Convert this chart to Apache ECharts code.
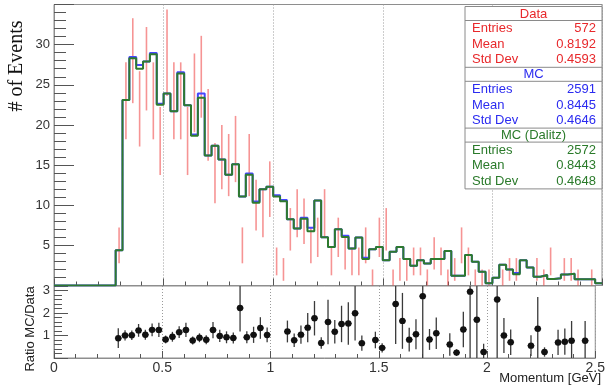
<!DOCTYPE html>
<html>
<head>
<meta charset="utf-8">
<script src="https://cdn.jsdelivr.net/npm/echarts@6.0.0/dist/echarts.min.js"></script>
<style>
  html, body { margin: 0; padding: 0; background: #ffffff; }
  #chart { width: 608px; height: 389px; }
</style>
</head>
<body>
<div id="chart"></div>
<script>
// Momentum histogram: 80 bins of 0.03125 GeV from 0 to 2.5 GeV
const binWidth = 0.03125;
const nBins = 80;

// MC (Dalitz) expectation per bin, normalised to data
const mcDalitz = [
  0, 0, 0, 0, 0, 0, 0, 0, 0, 4.4,
  23.1, 28.3, 27.0, 27.9, 28.8, 22.5, 23.9, 21.7, 26.4, 22.45,
  18.65, 23.4, 16.2, 17.4, 15.7, 13.8, 15.1, 11.1, 13.8, 10.3,
  12.0, 12.3, 11.1, 10.5, 8.25, 7.1, 8.3, 6.75, 10.6, 6.0,
  4.8, 7.0, 6.05, 4.6, 5.97, 3.3, 4.5, 4.8, 3.16, 4.2,
  4.8, 3.3, 2.45, 3.16, 2.75, 3.3, 3.3, 4.3, 1.2, 1.2,
  3.8, 2.95, 1.7, 0.27, 0.97, 2.6, 2.0, 1.4, 3.16, 2.25,
  1.1, 1.3, 0.8, 0.89, 1.38, 1.45, 0.77, 0.77, 0.77, 0.27
];

// Full MC expectation per bin, normalised to data
const mcAll = [
  0, 0, 0, 0, 0, 0, 0, 0, 0, 4.4,
  23.1, 28.45, 27.45, 27.9, 28.95, 22.65, 23.9, 21.7, 26.55, 22.45,
  18.8, 23.9, 16.2, 17.4, 15.7, 13.8, 15.1, 11.1, 13.95, 10.45,
  12.0, 12.3, 11.25, 10.65, 8.25, 7.1, 8.45, 7.2, 10.6, 6.0,
  4.8, 7.0, 6.2, 4.6, 5.97, 3.45, 4.5, 4.8, 3.16, 4.2,
  4.8, 3.3, 2.45, 3.16, 2.75, 3.3, 3.3, 4.3, 1.2, 1.2,
  3.8, 2.95, 1.7, 0.27, 0.97, 2.6, 2.0, 1.55, 3.16, 2.25,
  1.1, 1.3, 0.8, 0.89, 1.38, 1.45, 0.77, 0.77, 0.77, 0.27
];

// Observed data counts per bin
const dataCounts = [
  0, 0, 0, 0, 0, 0, 0, 0, 0, 5,
  23, 28, 22, 27, 23, 18, 29, 23, 23, 18,
  24, 26, 20, 14, 16, 15, 17, 5, 15, 10,
  9, 12, 3, 2, 7, 9, 8, 5, 6, 9,
  3, 6, 4, 3, 3, 5, 1, 6, 7, 1,
  2, 2, 3, 3, 1, 4, 3, 1, 2, 5,
  3, 1, 1, 1, 0, 1, 2, 2, 0, 0,
  2, 1, 3, 0, 2, 2, 1, 0, 1, 0
];

// Statistics boxes
const statTitles = ['Data', 'MC', 'MC (Dalitz)'];
const statEntries = ['572', '2591', '2572'];
const statMeans = ['0.8192', '0.8445', '0.8443'];
const statStdDevs = ['0.4593', '0.4646', '0.4648'];
const statColors = ['#e8282b', '#2b2bf0', '#2a7a2a'];

// Tick labels
const xTickLabels = ['0', '0.5', '1', '1.5', '2', '2.5'];
const yTickLabels = ['5', '10', '15', '20', '25', '30'];
const ratioTickLabels = ['1', '2', '3'];

// MC weight per simulated event (data entries / MC entries)
const mcWeight = 572 / 2591;

const FONT = '"Liberation Sans", Arial, Helvetica, sans-serif';
const axisGray = '#8e8e8e';
const tickGray = '#555555';
const labelColor = '#333333';

function stepPoints(vals) {
  const pts = [];
  for (let i = 0; i < nBins; i++) pts.push([i * binWidth, vals[i]]);
  pts.push([nBins * binWidth, vals[nBins - 1]]);
  return pts;
}

const dataBars = [];
const ratioPoints = [];
for (let i = 0; i < nBins; i++) {
  const n = dataCounts[i];
  if (n <= 0) continue;
  const xc = (i + 0.5) * binWidth;
  dataBars.push([xc, n, Math.sqrt(n)]);
  const mc = mcDalitz[i];
  const r = mc / n;
  const err = r * Math.sqrt(1 / n + mcWeight / mc);
  ratioPoints.push([xc, r, err]);
}

function clampY(y, cs) {
  return Math.min(Math.max(y, cs.y), cs.y + cs.height);
}

function renderDataBar(params, api) {
  const cs = params.coordSys;
  const x = api.value(0), n = api.value(1), e = api.value(2);
  const top = api.coord([x, n + e]);
  const bot = api.coord([x, Math.max(n - e, 0)]);
  return {
    type: 'line',
    shape: { x1: top[0], y1: clampY(top[1], cs), x2: top[0], y2: clampY(bot[1], cs) },
    style: { stroke: 'rgba(238, 60, 60, 0.55)', lineWidth: 1.6 }
  };
}

function renderRatio(params, api) {
  const cs = params.coordSys;
  const x = api.value(0), r = api.value(1), e = api.value(2);
  const c = api.coord([x, r]);
  if (c[1] < cs.y || c[1] > cs.y + cs.height) return { type: 'group', children: [] };
  const top = api.coord([x, r + e]);
  const bot = api.coord([x, Math.max(r - e, 0)]);
  const left = api.coord([x - binWidth / 2, r]);
  const right = api.coord([x + binWidth / 2, r]);
  return {
    type: 'group',
    children: [
      { type: 'line', shape: { x1: c[0], y1: clampY(top[1], cs), x2: c[0], y2: clampY(bot[1], cs) },
        style: { stroke: '#3a3a3a', lineWidth: 1.3 } },
      { type: 'line', shape: { x1: left[0], y1: c[1], x2: right[0], y2: c[1] },
        style: { stroke: '#222', lineWidth: 1.3 } },
      { type: 'circle', shape: { cx: c[0], cy: c[1], r: 3.2 }, style: { fill: '#111' } }
    ]
  };
}

function xAxisCfg(gridIndex, showLabels) {
  return {
    gridIndex: gridIndex, type: 'value', min: 0, max: 2.5, interval: 0.5,
    axisLine: { show: true, onZero: false, lineStyle: { color: axisGray, width: 1 } },
    axisTick: { show: true, inside: true, length: 7, lineStyle: { color: tickGray } },
    minorTick: { show: true, splitNumber: 5, length: 4, lineStyle: { color: tickGray } },
    axisLabel: {
      show: showLabels, fontSize: 14, fontFamily: FONT, color: labelColor, margin: 3,
      formatter: function (v) { return xTickLabels[Math.round(v / 0.5)] || ''; }
    },
    splitLine: { show: true, lineStyle: { type: [1, 2], color: '#9a9a9a', width: 1 } }
  };
}

// Statistics box graphics (box frame, separators and text rows)
const boxX = 465, boxW = 137, boxTop = 6.5;
const headerH = 14, rowH = 15.6;
const statFont = '13px ' + FONT;
const boxH = statTitles.length * (headerH + 3 * rowH);
const statGraphics = [
  { type: 'rect', z: 100, shape: { x: boxX, y: boxTop, width: boxW, height: boxH },
    style: { fill: '#ffffff', stroke: '#8a8a8a', lineWidth: 1 } }
];
let yCur = boxTop;
for (let b = 0; b < statTitles.length; b++) {
  const col = statColors[b];
  statGraphics.push({ type: 'text', z: 101, x: boxX + boxW / 2, y: yCur + headerH / 2 + 0.5,
    style: { text: statTitles[b], fill: col, font: statFont, align: 'center', verticalAlign: 'middle' } });
  yCur += headerH;
  statGraphics.push({ type: 'line', z: 101, shape: { x1: boxX, y1: yCur, x2: boxX + boxW, y2: yCur },
    style: { stroke: '#8a8a8a', lineWidth: 1 } });
  const labels = ['Entries', 'Mean', 'Std Dev'];
  const vals = [statEntries[b], statMeans[b], statStdDevs[b]];
  for (let r = 0; r < 3; r++) {
    const yy = yCur + rowH * (r + 0.5) + 0.3;
    statGraphics.push({ type: 'text', z: 101, x: boxX + 7, y: yy,
      style: { text: labels[r], fill: col, font: statFont, align: 'left', verticalAlign: 'middle' } });
    statGraphics.push({ type: 'text', z: 101, x: boxX + boxW - 6, y: yy,
      style: { text: vals[r], fill: col, font: statFont, align: 'right', verticalAlign: 'middle' } });
  }
  yCur += rowH * 3;
  if (b < statTitles.length - 1) {
    statGraphics.push({ type: 'line', z: 101, shape: { x1: boxX, y1: yCur, x2: boxX + boxW, y2: yCur },
      style: { stroke: '#8a8a8a', lineWidth: 1 } });
  }
}

const titleGraphics = [
  { type: 'text', x: 17, y: 66, rotation: Math.PI / 2,
    style: { text: '# of Events', fill: '#111', font: '20px "Liberation Serif", "Times New Roman", serif',
             align: 'center', verticalAlign: 'middle' } },
  { type: 'text', x: 30, y: 329, rotation: Math.PI / 2,
    style: { text: 'Ratio MC/Data', fill: '#222', font: '13px ' + FONT,
             align: 'center', verticalAlign: 'middle' } },
  { type: 'text', x: 601, y: 378,
    style: { text: 'Momentum [GeV]', fill: '#222', font: '13px ' + FONT,
             align: 'right', verticalAlign: 'middle' } }
];

const chart = echarts.init(document.getElementById('chart'), null, { renderer: 'canvas' });

const option = {
  animation: false,
  backgroundColor: '#ffffff',
  grid: [
    { left: 54, top: 4.5, width: 548, height: 281, show: true, borderColor: axisGray, borderWidth: 1, backgroundColor: 'transparent' },
    { left: 54, top: 286, width: 548, height: 72, show: true, borderColor: axisGray, borderWidth: 1, backgroundColor: 'transparent' }
  ],
  xAxis: [xAxisCfg(0, false), xAxisCfg(1, true)],
  yAxis: [
    {
      gridIndex: 0, type: 'value', min: 0, max: 35, interval: 5,
      axisLine: { show: true, onZero: false, lineStyle: { color: axisGray } },
      axisTick: { show: true, inside: true, length: 20, lineStyle: { color: tickGray } },
      minorTick: { show: true, splitNumber: 5, length: 12, lineStyle: { color: tickGray } },
      axisLabel: {
        fontSize: 13, fontFamily: FONT, color: labelColor, margin: 4, showMaxLabel: false,
        formatter: function (v) { return yTickLabels[Math.round(v / 5) - 1] || ''; }
      },
      splitLine: { show: false }
    },
    {
      gridIndex: 1, type: 'value', min: 0, max: 3.2, interval: 1,
      axisLine: { show: true, onZero: false, lineStyle: { color: axisGray } },
      axisTick: { show: true, inside: true, length: 14, lineStyle: { color: tickGray } },
      minorTick: { show: true, splitNumber: 5, length: 8, lineStyle: { color: tickGray } },
      axisLabel: {
        fontSize: 13, fontFamily: FONT, color: labelColor, margin: 4, showMaxLabel: false,
        formatter: function (v) { return ratioTickLabels[Math.round(v) - 1] || ''; }
      },
      splitLine: { show: false }
    }
  ],
  series: [
    {
      name: 'Data', type: 'custom', xAxisIndex: 0, yAxisIndex: 0,
      renderItem: renderDataBar, data: dataBars, encode: { x: 0, y: 1 }, z: 2, silent: true
    },
    {
      name: 'MC', type: 'line', xAxisIndex: 0, yAxisIndex: 0, step: 'end',
      data: stepPoints(mcAll), showSymbol: false, symbol: 'none',
      lineStyle: { color: '#4646ff', width: 2 }, z: 3, silent: true
    },
    {
      name: 'MC (Dalitz)', type: 'line', xAxisIndex: 0, yAxisIndex: 0, step: 'end',
      data: stepPoints(mcDalitz), showSymbol: false, symbol: 'none',
      lineStyle: { color: '#2e7a2e', width: 2 }, z: 4, silent: true
    },
    {
      name: 'Ratio MC/Data', type: 'custom', xAxisIndex: 1, yAxisIndex: 1,
      renderItem: renderRatio, data: ratioPoints, encode: { x: 0, y: 1 }, z: 5, silent: true
    }
  ],
  graphic: { elements: statGraphics.concat(titleGraphics) }
};

chart.setOption(option);
</script>
</body>
</html>
